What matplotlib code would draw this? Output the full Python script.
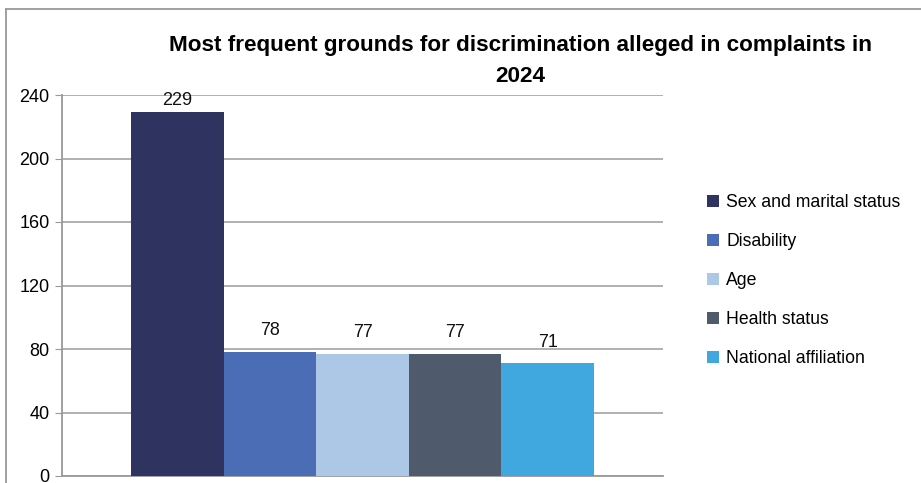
import numpy as np
import matplotlib.pyplot as plt
from matplotlib.lines import Line2D

grounds = ['Sex and marital status', 'Disability', 'Age', 'Health status', 'National affiliation']
counts = [229, 78, 77, 77, 71]
colours = ['#2E3360', '#4A6DB5', '#ADC7E6', '#4F5A6C', '#40A8DF']
yticks = [0, 40, 80, 120, 160, 200, 240]

plt.rcParams['font.family'] = ['Liberation Sans', 'DejaVu Sans']

fig = plt.figure(figsize=(9.21, 4.83), dpi=100)
ax = fig.add_axes([62/921, 7/483, 601/921, 381/483])

x = np.arange(len(grounds))
bars = ax.bar(x, counts, width=1.0, color=colours, label=grounds, zorder=3)
for xi, v in zip(x, counts):
    # labels sit above the bars, the tallest one is squeezed under the top
    ax.text(xi, min(v + 8, 231), str(v), ha='center', va='bottom', fontsize=13, color='#111111')

ax.set_xlim(-1.245, 5.245)
ax.set_ylim(0, 240)
ax.set_yticks(yticks)
ax.set_xticks([])
ax.tick_params(axis='y', length=5, color='#999999', labelsize=13, pad=4, direction='out')
ax.yaxis.grid(True, color='#AAAAAA', linewidth=1.3, zorder=0)
for s in ['top', 'right']:
    ax.spines[s].set_visible(False)
ax.spines['left'].set_color('#999999')
ax.spines['bottom'].set_color('#999999')
ax.spines['left'].set_linewidth(1.3)
ax.spines['bottom'].set_linewidth(1.3)

fig.text(520/921, 1 - 46/483, 'Most frequent grounds for discrimination alleged in complaints in',
         ha='center', va='center', fontsize=16.2, fontweight='bold')
fig.text(520/921, 1 - 77/483, '2024', ha='center', va='center', fontsize=16.2, fontweight='bold')

leg = ax.legend(handles=bars.patches, labels=grounds, loc='upper left',
                bbox_to_anchor=(700/921, 1 - 187/483), bbox_transform=fig.transFigure,
                frameon=False, fontsize=12.7, handlelength=0.7, handleheight=0.7,
                handletextpad=0.4, labelspacing=1.25, borderaxespad=0)

# outer frame (left and top edges)
fig.add_artist(Line2D([6/921, 6/921], [0, 1 - 9/483], transform=fig.transFigure, color='#999999', lw=1.3))
fig.add_artist(Line2D([6/921, 1], [1 - 9/483, 1 - 9/483], transform=fig.transFigure, color='#999999', lw=1.3))

fig.savefig('out.png', dpi=100)
